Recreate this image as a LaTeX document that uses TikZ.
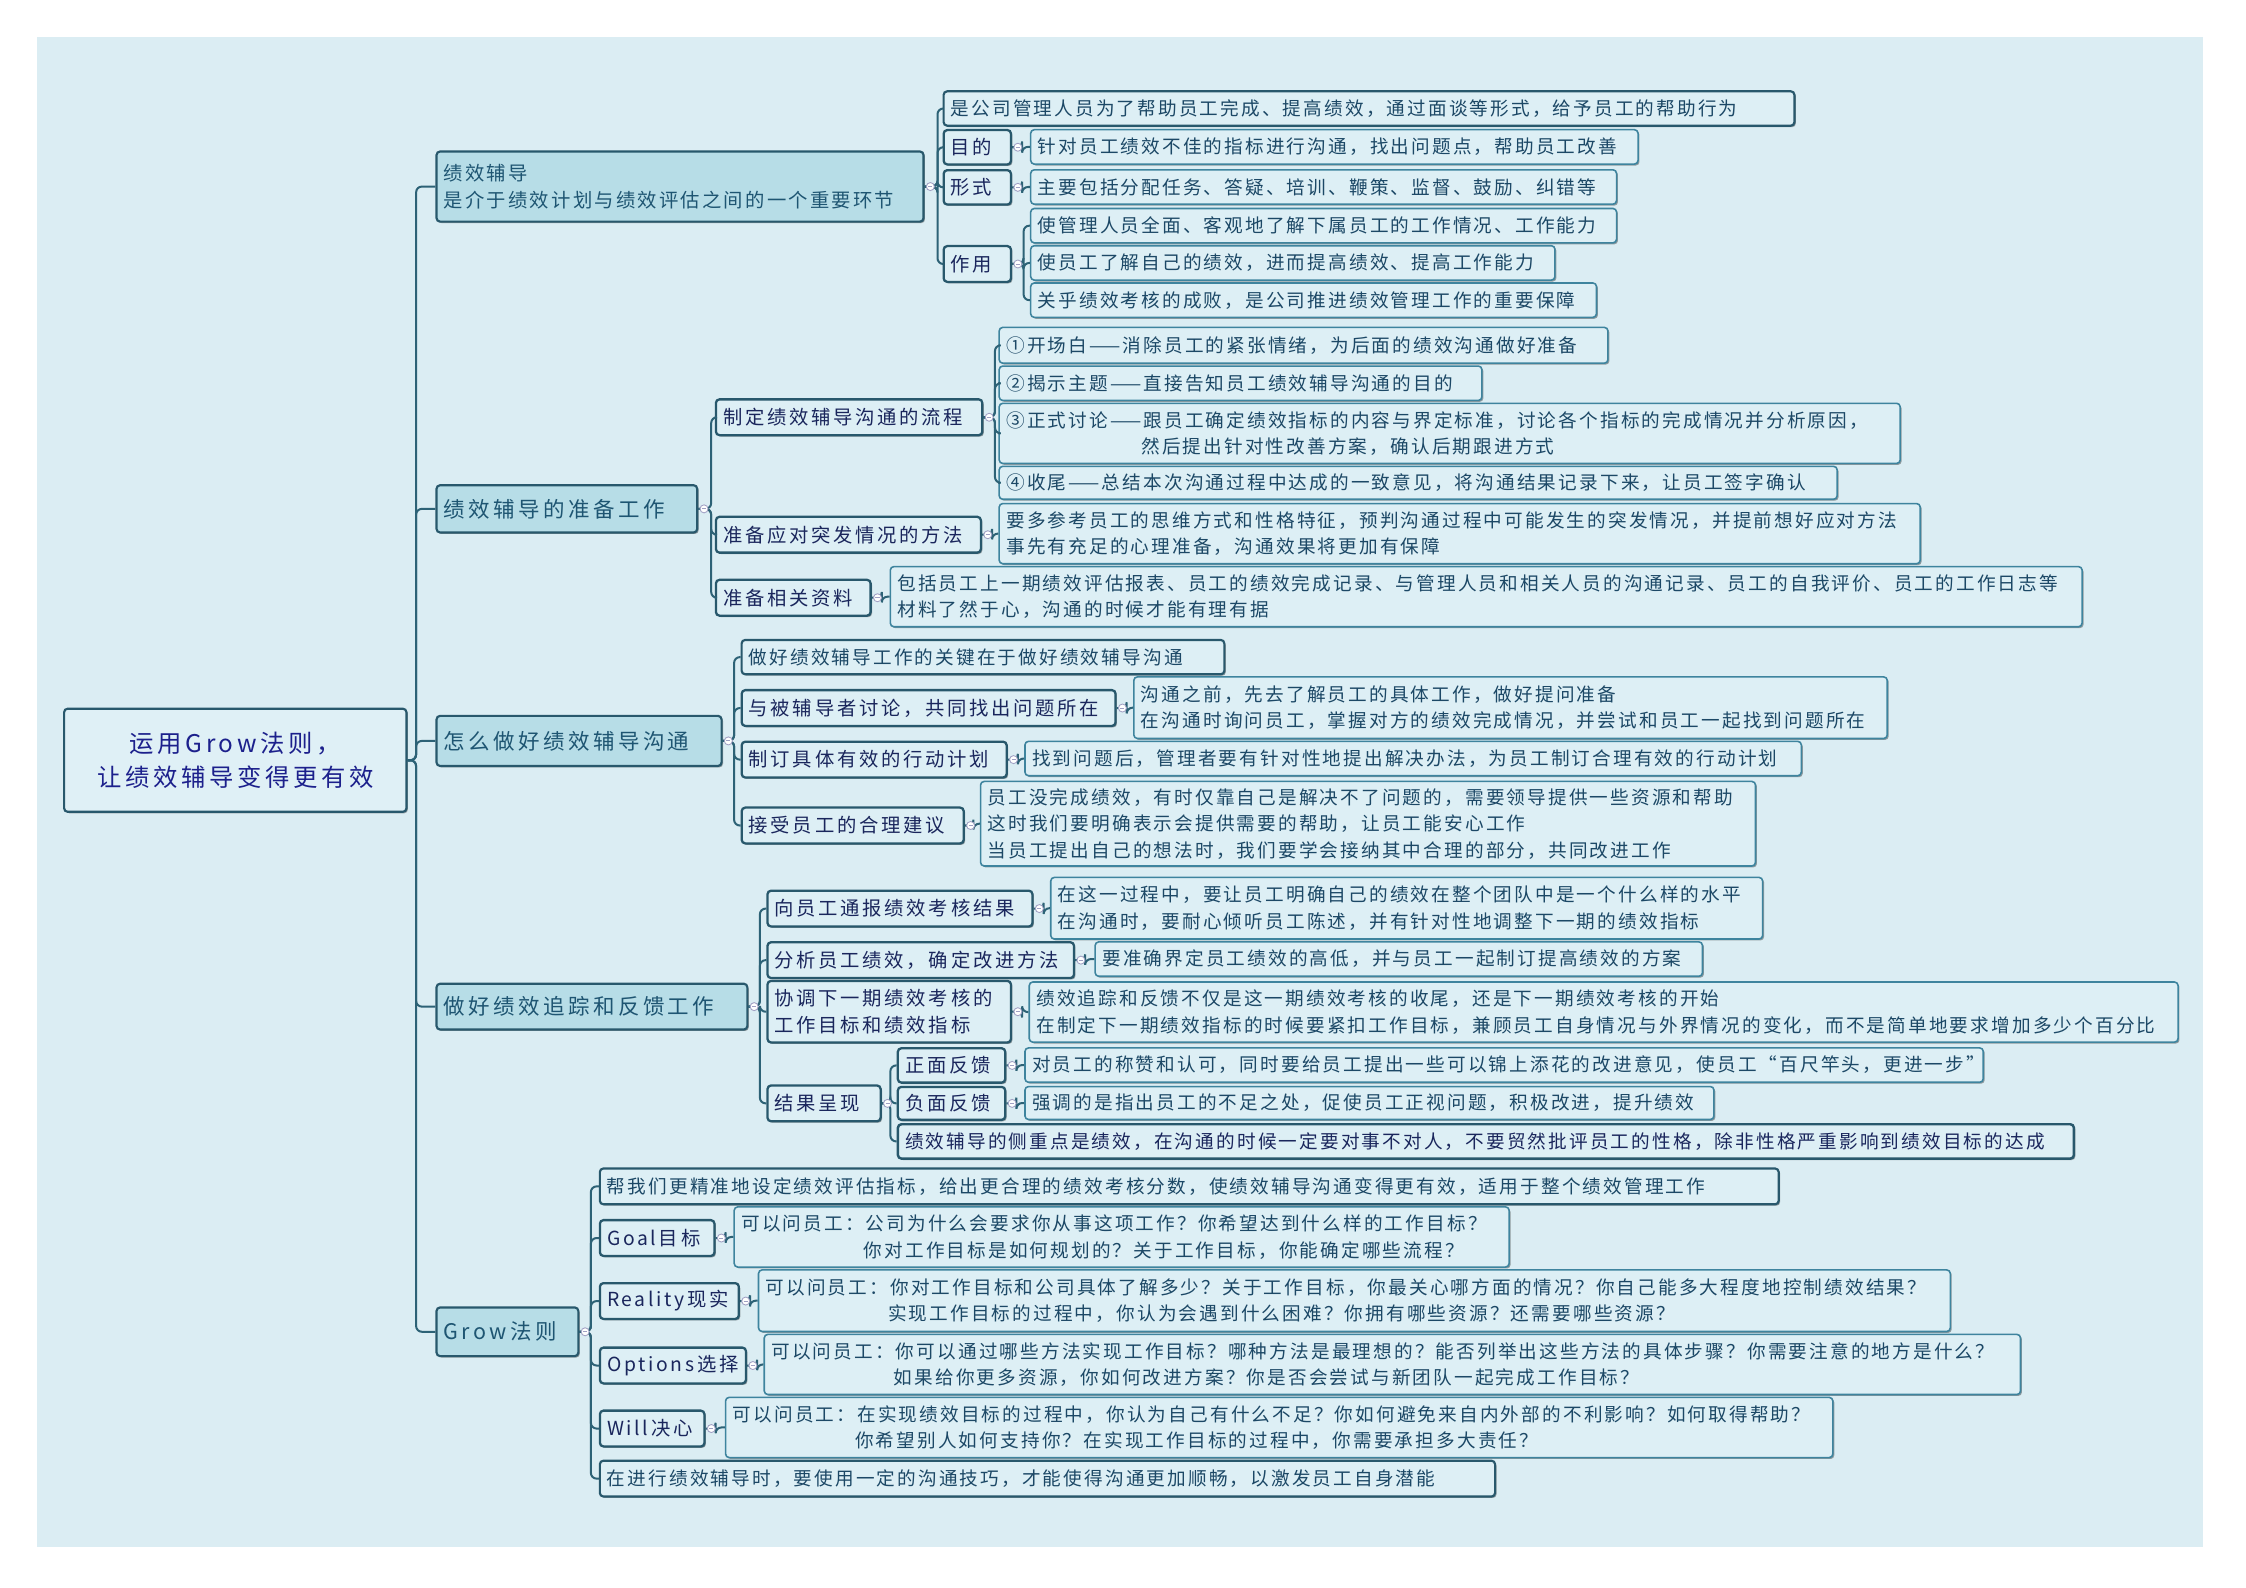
\documentclass[tikz,border=0pt]{standalone}
\usepackage{fontspec}
\setmainfont{Noto Sans CJK SC}
\newfontfamily\leaffont[LetterSpace=11.5]{Noto Sans CJK SC}
\newfontfamily\labelfont[LetterSpace=14]{Noto Sans CJK SC}
\newfontfamily\branchfont[LetterSpace=16]{Noto Sans CJK SC}
\newfontfamily\bonefont[LetterSpace=11.5]{Noto Sans CJK SC}
\newfontfamily\rootfont[LetterSpace=15]{Noto Sans CJK SC}
\usetikzlibrary{shadows}
\definecolor{canvas}{RGB}{219,237,243}
\definecolor{leaffill}{RGB}{221,239,245}
\definecolor{rootfill}{RGB}{223,240,246}
\definecolor{branchfill}{RGB}{183,221,231}
\definecolor{edgedark}{RGB}{40,88,108}
\definecolor{leafedge}{RGB}{62,132,158}
\definecolor{conncol}{RGB}{45,98,118}
\definecolor{leaftext}{RGB}{28,72,102}
\definecolor{labeltext}{RGB}{26,38,92}
\definecolor{branchtext}{RGB}{30,85,114}
\definecolor{roottext}{RGB}{28,32,140}
\definecolor{knobcol}{RGB}{160,160,195}
\tikzset{
  boxbase/.style={rounded corners=2.5pt, anchor=north west, align=left, inner xsep=5pt, inner ysep=1pt,
    drop shadow={shadow xshift=1pt,shadow yshift=-1pt,opacity=.35,fill=black}},
  leaf/.style={boxbase, draw=leafedge, line width=1.1pt, fill=leaffill, text=leaftext,
    font=\leaffont\fontsize{13}{18.5}\selectfont},
  subleaf/.style={boxbase, draw=edgedark, line width=1.5pt, fill=leaffill, text=leaftext,
    font=\leaffont\fontsize{13}{18.5}\selectfont},
  label/.style={boxbase, draw=edgedark, line width=1.6pt, fill=leaffill, text=labeltext,
    font=\labelfont\fontsize{13.5}{19}\selectfont},
  strong/.style={boxbase, draw=edgedark, line width=1.7pt, fill=leaffill, text=labeltext,
    font=\leaffont\fontsize{13}{18.5}\selectfont},
  branch/.style={boxbase, draw=edgedark, line width=1.5pt, fill=branchfill, text=branchtext,
    font=\branchfont\fontsize{15}{20}\selectfont},
  bone/.style={branch, font=\bonefont\fontsize{13.5}{19}\selectfont},
  rootbox/.style={boxbase, draw=edgedark, line width=1.5pt, fill=rootfill, text=roottext, align=center,
    font=\rootfont\fontsize{17}{24}\selectfont},
  conn/.style={draw=conncol, line width=1.4pt, rounded corners=4pt},
}
\newcommand\bx[7]{%
  \pgfmathsetmacro\bxw{#5-#3}\pgfmathsetmacro\bxh{#6-#4}\pgfmathsetmacro\bxt{#5-#3-10}%
  \node[#2, minimum width=\bxw pt, minimum height=\bxh pt, text width=\bxt pt] (#1) at (#3,#4) {#7};}
\newcommand\link[3]{\draw[conn] (#1.east) -- ([xshift=#3pt]#1.east) |- (#2.west);}
\newcommand\knob[1]{%
  \draw[knobcol, fill=white, line width=.6pt] ([xshift=4pt]#1.east) circle (2.8pt);
  \draw[knobcol, line width=.6pt] ([xshift=2.6pt]#1.east) -- ([xshift=5.4pt]#1.east);}
\begin{document}
\begin{tikzpicture}[x=1pt,y=-1pt]
\fill[white] (0,0) rectangle (1568,1108);
\useasboundingbox (0,0) rectangle (1568,1108);
\fill[canvas] (26,26) rectangle (1538,1080);

% root
\bx{root}{rootbox}{44}{494}{283}{566}{运用Grow法则，\\让绩效辅导变得更有效}

% branch 1
\bx{b1}{bone}{304}{105}{644}{154}{绩效辅导\\是介于绩效计划与绩效评估之间的一个重要环节}
\bx{b1a}{subleaf}{658}{63}{1252}{87}{是公司管理人员为了帮助员工完成、提高绩效，通过面谈等形式，给予员工的帮助行为}
\bx{mude}{label}{658}{90}{705}{114}{目的}
\bx{mudel}{leaf}{719}{90}{1143}{114}{针对员工绩效不佳的指标进行沟通，找出问题点，帮助员工改善}
\bx{xs}{label}{658}{118}{705}{142}{形式}
\bx{xsl}{leaf}{719}{118}{1128}{142}{主要包括分配任务、答疑、培训、鞭策、监督、鼓励、纠错等}
\bx{zy}{label}{658}{171}{705}{196}{作用}
\bx{zy1}{leaf}{719}{145}{1128}{169}{使管理人员全面、客观地了解下属员工的工作情况、工作能力}
\bx{zy2}{leaf}{719}{171}{1085}{195}{使员工了解自己的绩效，进而提高绩效、提高工作能力}
\bx{zy3}{leaf}{719}{197}{1114}{221}{关乎绩效考核的成败，是公司推进绩效管理工作的重要保障}

% branch 2
\bx{b2}{branch}{304}{338}{486}{371}{绩效辅导的准备工作}
\bx{lc}{label}{499}{278}{685}{303}{制定绩效辅导沟通的流程}
\bx{lc1}{leaf}{697}{228}{1122}{253}{①开场白——消除员工的紧张情绪，为后面的绩效沟通做好准备}
\bx{lc2}{leaf}{697}{255}{1034}{279}{②揭示主题——直接告知员工绩效辅导沟通的目的}
\bx{lc3}{leaf}{697}{281}{1326}{323}{③正式讨论——跟员工确定绩效指标的内容与界定标准，讨论各个指标的完成情况并分析原因，\\\hphantom{③正式讨论——}然后提出针对性改善方案，确认后期跟进方式}
\bx{lc4}{leaf}{697}{325}{1282}{348}{④收尾——总结本次沟通过程中达成的一致意见，将沟通结果记录下来，让员工签字确认}
\bx{tf}{label}{499}{360}{684}{385}{准备应对突发情况的方法}
\bx{tfl}{leaf}{697}{351}{1340}{393}{要多参考员工的思维方式和性格特征，预判沟通过程中可能发生的突发情况，并提前想好应对方法\\事先有充足的心理准备，沟通效果将更加有保障}
\bx{zl}{label}{499}{404}{607}{429}{准备相关资料}
\bx{zll}{leaf}{621}{395}{1453}{437}{包括员工上一期绩效评估报表、员工的绩效完成记录、与管理人员和相关人员的沟通记录、员工的自我评价、员工的工作日志等\\材料了然于心，沟通的时候才能有理有据}

% branch 3
\bx{b3}{branch}{304}{499}{503}{534}{怎么做好绩效辅导沟通}
\bx{gj}{subleaf}{517}{446}{854}{470}{做好绩效辅导工作的关键在于做好绩效辅导沟通}
\bx{tl}{label}{517}{481}{778}{506}{与被辅导者讨论，共同找出问题所在}
\bx{tll}{leaf}{791}{472}{1317}{515}{沟通之前，先去了解员工的具体工作，做好提问准备\\在沟通时询问员工，掌握对方的绩效完成情况，并尝试和员工一起找到问题所在}
\bx{zd}{label}{517}{517}{702}{542}{制订具体有效的行动计划}
\bx{zdl}{leaf}{715}{517}{1257}{541}{找到问题后，管理者要有针对性地提出解决办法，为员工制订合理有效的行动计划}
\bx{js}{label}{517}{563}{672}{588}{接受员工的合理建议}
\bx{jsl}{leaf}{684}{545}{1225}{604}{员工没完成绩效，有时仅靠自己是解决不了问题的，需要领导提供一些资源和帮助\\这时我们要明确表示会提供需要的帮助，让员工能安心工作\\当员工提出自己的想法时，我们要学会接纳其中合理的部分，共同改进工作}

% branch 4
\bx{b4}{branch}{304}{686}{521}{718}{做好绩效追踪和反馈工作}
\bx{tb}{label}{535}{621}{720}{646}{向员工通报绩效考核结果}
\bx{tbl}{leaf}{733}{612}{1230}{655}{在这一过程中，要让员工明确自己的绩效在整个团队中是一个什么样的水平\\在沟通时，要耐心倾听员工陈述，并有针对性地调整下一期的绩效指标}
\bx{fx}{label}{535}{657}{749}{682}{分析员工绩效，确定改进方法}
\bx{fxl}{leaf}{764}{657}{1188}{681}{要准确界定员工绩效的高低，并与员工一起制订提高绩效的方案}
\bx{xt}{label}{535}{684}{705}{727}{协调下一期绩效考核的\\工作目标和绩效指标}
\bx{xtl}{leaf}{718}{685}{1520}{727}{绩效追踪和反馈不仅是这一期绩效考核的收尾，还是下一期绩效考核的开始\\在制定下一期绩效指标的时候要紧扣工作目标，兼顾员工自身情况与外界情况的变化，而不是简单地要求增加多少个百分比}
\bx{jg}{label}{535}{757}{614}{782}{结果呈现}
\bx{zm}{label}{626}{731}{701}{755}{正面反馈}
\bx{zml}{leaf}{715}{731}{1384}{755}{对员工的称赞和认可，同时要给员工提出一些可以锦上添花的改进意见，使员工“百尺竿头，更进一步”}
\bx{fm}{label}{626}{758}{701}{781}{负面反馈}
\bx{fml}{leaf}{715}{758}{1196}{781}{强调的是指出员工的不足之处，促使员工正视问题，积极改进，提升绩效}
\bx{cz}{strong}{626}{784}{1447}{808}{绩效辅导的侧重点是绩效，在沟通的时候一定要对事不对人，不要贸然批评员工的性格，除非性格严重影响到绩效目标的达成}

% branch 5
\bx{b5}{branch}{304}{912}{403}{946}{Grow法则}
\bx{bw}{subleaf}{418}{815}{1241}{840}{帮我们更精准地设定绩效评估指标，给出更合理的绩效考核分数，使绩效辅导沟通变得更有效，适用于整个绩效管理工作}
\bx{goal}{label}{418}{851}{498}{876}{Goal目标}
\bx{goall}{leaf}{512}{842}{1053}{884}{可以问员工：公司为什么会要求你从事这项工作？你希望达到什么样的工作目标？\\\hphantom{可以问员工：}你对工作目标是如何规划的？关于工作目标，你能确定哪些流程？}
\bx{real}{label}{418}{895}{515}{920}{Reality现实}
\bx{reall}{leaf}{529}{886}{1361}{929}{可以问员工：你对工作目标和公司具体了解多少？关于工作目标，你最关心哪方面的情况？你自己能多大程度地控制绩效结果？\\\hphantom{可以问员工：}实现工作目标的过程中，你认为会遇到什么困难？你拥有哪些资源？还需要哪些资源？}
\bx{opt}{label}{418}{940}{520}{965}{Options选择}
\bx{optl}{leaf}{533}{931}{1410}{973}{可以问员工：你可以通过哪些方法实现工作目标？哪种方法是最理想的？能否列举出这些方法的具体步骤？你需要注意的地方是什么？\\\hphantom{可以问员工：}如果给你更多资源，你如何改进方案？你是否会尝试与新团队一起完成工作目标？}
\bx{will}{label}{418}{984}{491}{1009}{Will决心}
\bx{willl}{leaf}{506}{975}{1279}{1017}{可以问员工：在实现绩效目标的过程中，你认为自己有什么不足？你如何避免来自内外部的不利影响？如何取得帮助？\\\hphantom{可以问员工：}你希望别人如何支持你？在实现工作目标的过程中，你需要承担多大责任？}
\bx{jq}{subleaf}{418}{1019}{1043}{1044}{在进行绩效辅导时，要使用一定的沟通技巧，才能使得沟通更加顺畅，以激发员工自身潜能}

% connectors
\foreach \c in {b1,b2,b3,b4,b5} {\link{root}{\c}{6}}
\foreach \c in {b1a,mude,xs,zy} {\link{b1}{\c}{9}}
\link{mude}{mudel}{7}
\link{xs}{xsl}{7}
\foreach \c in {zy1,zy2,zy3} {\link{zy}{\c}{8}}
\foreach \c in {lc,tf,zl} {\link{b2}{\c}{9}}
\foreach \c in {lc1,lc2,lc3,lc4} {\link{lc}{\c}{8}}
\link{tf}{tfl}{7}
\link{zl}{zll}{7}
\foreach \c in {gj,tl,zd,js} {\link{b3}{\c}{8}}
\link{tl}{tll}{7}
\link{zd}{zdl}{7}
\link{js}{jsl}{6}
\foreach \c in {tb,fx,xt,jg} {\link{b4}{\c}{8}}
\link{tb}{tbl}{7}
\link{fx}{fxl}{7}
\link{xt}{xtl}{7}
\foreach \c in {zm,fm,cz} {\link{jg}{\c}{6}}
\link{zm}{zml}{7}
\link{fm}{fml}{7}
\foreach \c in {bw,goal,real,opt,will,jq} {\link{b5}{\c}{8}}
\link{goal}{goall}{7}
\link{real}{reall}{7}
\link{opt}{optl}{7}
\link{will}{willl}{7}

% collapse markers
\foreach \p in {b1,mude,xs,zy,b2,lc,tf,zl,b3,tl,zd,js,b4,tb,fx,xt,jg,zm,fm,b5,goal,real,opt,will} {\knob{\p}}
\end{tikzpicture}
\end{document}
